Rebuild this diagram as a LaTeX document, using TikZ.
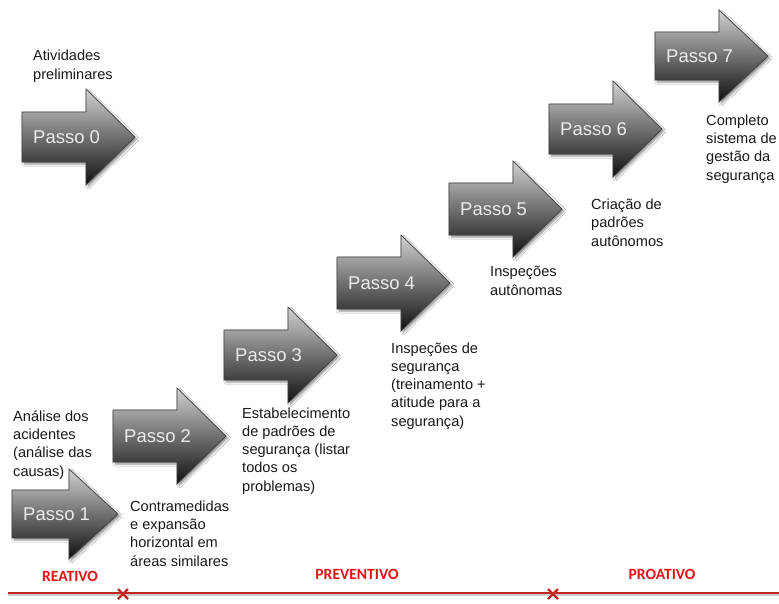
\documentclass[tikz,border=0pt]{standalone}
\usepackage{fontspec}
\setmainfont{Liberation Sans}
\newfontfamily\phasefont{Carlito}
\usetikzlibrary{shadows.blur}
\definecolor{phasered}{RGB}{228,18,22}
\definecolor{linered}{RGB}{196,38,34}
\tikzset{
  steparrow/.style={top color=black!18, bottom color=black!94, draw=black!75,
    line width=0.7pt, line join=miter,
    blur shadow={shadow xshift=2pt, shadow yshift=-2pt, shadow blur steps=5, shadow opacity=45}},
  steplabel/.style={anchor=west, inner sep=0pt, text=white!92!black,
    font=\fontsize{18.5}{22}\selectfont},
  % multi-line nodes sit on the baseline of their last line
  desc/.style={anchor=base west, inner sep=0pt, align=left, text=black!90,
    font=\fontsize{14.6}{18.2}\selectfont},
  phase/.style={inner sep=0pt, text=phasered,
    font=\phasefont\bfseries\fontsize{15.6}{17}\selectfont},
  timeline/.style={draw=linered, line width=2.6pt},
  timeshadow/.style={draw=black!20, line width=2pt},
  xmark/.style={draw=linered, line width=2.2pt},
}
% #1 node name, #2 left x, #3 centre y, #4 body length, #5 body half-height,
% #6 head half-height, #7 label
\newcommand\passoarrow[7]{%
  \path[steparrow] (#2,#3-#5) -- (#2+#4,#3-#5) -- (#2+#4,#3-#6) -- (#2+#4+49,#3)
    -- (#2+#4,#3+#6) -- (#2+#4,#3+#5) -- (#2,#3+#5) -- cycle;
  \node[steplabel] (#1) at (#2+11,#3) {#7};}
\begin{document}
\begin{tikzpicture}[x=1pt,y=-1pt]
  \useasboundingbox[fill=white] (0,0) rectangle (779,603);

  % step arrows
  \passoarrow{p0}{22}{137}{64}{25}{48}{Passo 0}
  \passoarrow{p1}{12}{514}{57}{24}{45}{Passo 1}
  \passoarrow{p2}{113}{436}{64}{26}{48}{Passo 2}
  \passoarrow{p3}{224}{355}{64}{25}{48}{Passo 3}
  \passoarrow{p4}{337}{283}{64}{26}{48}{Passo 4}
  \passoarrow{p5}{449}{209}{64}{26}{48}{Passo 5}
  \passoarrow{p6}{549}{129}{64}{25}{48}{Passo 6}
  \passoarrow{p7}{655}{56}{64}{24}{46}{Passo 7}

  % step descriptions (placed by the baseline of the last line)
  \node[desc] (t0) at (33,79) {Atividades\\preliminares};
  \node[desc] (t1) at (13,476) {Análise dos\\acidentes\\(análise das\\causas)};
  \node[desc] (t2) at (130,566) {Contramedidas\\e expansão\\horizontal em\\áreas similares};
  \node[desc] (t3) at (242,491) {Estabelecimento\\de padrões de\\segurança (listar\\todos os\\problemas)};
  \node[desc] (t4) at (391,426) {Inspeções de\\segurança\\(treinamento +\\atitude para a\\segurança)};
  \node[desc] (t5) at (490,295) {Inspeções\\autônomas};
  \node[desc] (t6) at (591,246) {Criação de\\padrões\\autônomos};
  \node[desc] (t7) at (706,180) {Completo\\sistema de\\gestão da\\segurança};

  % phase timeline
  \coordinate (lineL) at (8,593);
  \coordinate (lineR) at (779,593);
  \draw[timeshadow] ([yshift=-2pt]lineL) -- ([yshift=-2pt]lineR);
  \draw[timeline] (lineL) -- (lineR);
  \coordinate (x1) at (123,594);
  \coordinate (x2) at (553,594);
  \foreach \c in {x1,x2}{
    \draw[xmark] ([shift={(-5,-5)}]\c) -- ([shift={(5,5)}]\c);
    \draw[xmark] ([shift={(-5,5)}]\c) -- ([shift={(5,-5)}]\c);
  }
  \node[phase] (reativo) at (70,576) {REATIVO};
  \node[phase] (preventivo) at (357,574) {PREVENTIVO};
  \node[phase] (proativo) at (662,574) {PROATIVO};
\end{tikzpicture}
\end{document}
